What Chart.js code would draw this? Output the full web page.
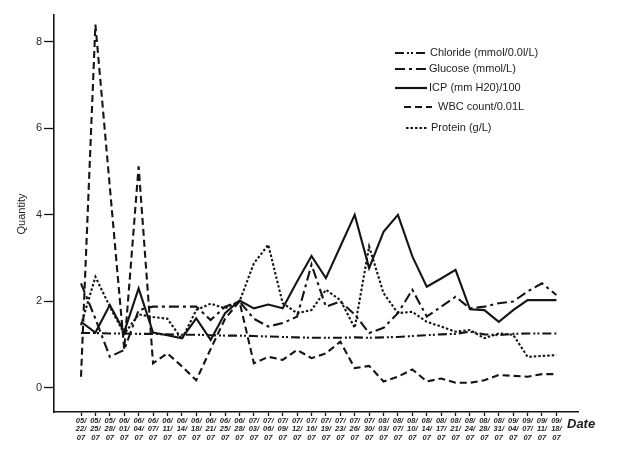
<!DOCTYPE html>
<html lang="en">
<head>
<meta charset="UTF-8">
<title>CSF values by date</title>
<script src="https://cdn.jsdelivr.net/npm/chart.js"></script>
<style>
  body { margin: 0; background: #fff; }
  #wrap { width: 622px; height: 450px; }
</style>
</head>
<body>
<div id="wrap"><canvas id="myChart" width="622" height="450"></canvas></div>
<script>
  // dates on the x axis (mm/dd/yy)
  const dates = ['05/22/07','05/25/07','05/28/07','06/01/07','06/04/07','06/07/07','06/11/07','06/14/07',
    '06/18/07','06/21/07','06/25/07','06/28/07','07/03/07','07/06/07','07/09/07','07/12/07','07/16/07',
    '07/19/07','07/23/07','07/26/07','07/30/07','08/03/07','08/07/07','08/10/07','08/14/07','08/17/07',
    '08/21/07','08/24/07','08/28/07','08/31/07','09/04/07','09/07/07','09/11/07','09/18/07'];

  // series
  const chloride = [1.27,1.27,1.26,1.26,1.25,1.25,1.24,1.23,1.23,1.22,1.21,1.21,1.2,1.19,1.18,1.17,1.16,
    1.16,1.16,1.17,1.16,1.17,1.18,1.2,1.22,1.24,1.25,1.3,1.24,1.22,1.25,1.26,1.26,1.26];
  const glucose = [2.42,1.6,0.72,0.88,1.8,1.88,1.88,1.88,1.88,1.57,1.88,2.0,1.6,1.42,1.5,1.65,2.85,
    1.88,2.0,1.7,1.27,1.39,1.73,2.27,1.65,1.88,2.11,1.84,1.88,1.96,2.0,2.23,2.42,2.15];
  const icp = [1.53,1.28,1.92,1.3,2.3,1.28,1.22,1.15,1.61,1.11,1.73,2.02,1.84,1.93,1.84,2.46,3.05,
    2.54,3.27,4.0,2.77,3.61,4.0,3.04,2.34,2.53,2.73,1.82,1.8,1.53,1.8,2.03,2.03,2.03];
  const wbc = [0.26,8.4,4.65,0.9,5.12,0.57,0.8,0.5,0.18,0.9,1.6,2.0,0.57,0.72,0.65,0.88,0.69,
    0.8,1.07,0.46,0.51,0.15,0.26,0.43,0.15,0.22,0.12,0.12,0.18,0.3,0.28,0.26,0.32,0.32];
  const protein = [1.45,2.57,1.88,1.25,1.7,1.64,1.6,1.13,1.8,1.95,1.84,2.0,2.88,3.31,1.96,1.73,1.8,
    2.27,2.03,1.39,3.27,2.19,1.73,1.76,1.53,1.42,1.3,1.34,1.15,1.26,1.23,0.72,0.74,0.76];
  const yTicks = [0, 2, 4, 6, 8];

  const names = ['Chloride (mmol/0.0l/L)', 'Glucose (mmol/L)', 'ICP (mm H20)/100', 'WBC count/0.01L', 'Protein (g/L)'];
  const values = [chloride, glucose, icp, wbc, protein];
  const dashes = [[9,3,2,2,2,3], [10,4,3,4], [], [7,4], [2.5,2]];

  const ink = '#151515';
  const font = 'Arial, "Liberation Sans", sans-serif';

  // legend + axis titles drawn by hand, like the original figure
  const decor = {
    id: 'decor',
    afterDraw(chart) {
      const c = chart.ctx;
      c.save();
      c.fillStyle = '#1e1e1e';
      c.strokeStyle = ink;
      c.textBaseline = 'middle';
      c.font = '11px ' + font;
      const rows = [53, 69, 88, 107, 128];
      const lx0 = [395, 395, 395, 404, 406];
      const lx1 = [427, 427, 427, 432, 428];
      const tx = [430, 429, 429, 438, 431];
      chart.data.datasets.forEach((ds, i) => {
        c.lineWidth = 2.2;
        c.setLineDash(ds.borderDash || []);
        c.beginPath();
        c.moveTo(lx0[i], rows[i]);
        c.lineTo(lx1[i], rows[i]);
        c.stroke();
        c.setLineDash([]);
        c.textAlign = 'left';
        c.fillText(ds.label, tx[i], rows[i]);
      });
      // y title
      c.save();
      c.translate(22, 214);
      c.rotate(-Math.PI / 2);
      c.textAlign = 'center';
      c.font = '11px ' + font;
      c.fillText('Quantity', 0, 0);
      c.restore();
      // x title
      c.textAlign = 'left';
      c.font = 'italic bold 13px ' + font;
      c.fillText('Date', 567, 424);
      c.restore();
    }
  };

  const ctx = document.getElementById('myChart').getContext('2d');
  const myChart = new Chart(ctx, {
    type: 'line',
    data: {
      datasets: names.map((n, i) => ({
        label: n,
        data: values[i].map((v, k) => ({ x: k, y: v })),
        borderColor: ink,
        borderWidth: 2.1,
        borderDash: dashes[i],
        pointRadius: 0,
        tension: 0,
        fill: false
      }))
    },
    options: {
      responsive: false,
      animation: false,
      layout: { padding: { top: 15, right: 44, left: 0, bottom: 0 } },
      plugins: { legend: { display: false }, tooltip: { enabled: false } },
      scales: {
        x: {
          type: 'linear',
          min: -1.875,
          max: 34.5,
          afterBuildTicks: s => { s.ticks = dates.map((d, k) => ({ value: k })); },
          afterFit: s => { s.height = 38; },
          border: { color: ink, width: 1.6 },
          grid: { drawOnChartArea: false, tickLength: 4, color: ink, tickWidth: 1.3 },
          ticks: {
            autoSkip: false,
            maxRotation: 0,
            padding: 1,
            color: '#1e1e1e',
            font: { size: 7.5, style: 'italic', weight: 'bold', family: font, lineHeight: 1.1 },
            callback: v => {
              const p = dates[v].split('/');
              return [p[0] + '/', p[1] + '/', p[2]];
            }
          }
        },
        y: {
          min: -0.555,
          max: 8.62,
          afterBuildTicks: s => { s.ticks = yTicks.map(v => ({ value: v })); },
          afterFit: s => { s.width = 54; },
          border: { color: ink, width: 1.6 },
          grid: { drawOnChartArea: false, tickLength: 10, color: ink, tickWidth: 1.3 },
          ticks: {
            padding: 2,
            color: '#2a2a2a',
            font: { size: 11, family: font }
          }
        }
      }
    },
    plugins: [decor]
  });
</script>
</body>
</html>
